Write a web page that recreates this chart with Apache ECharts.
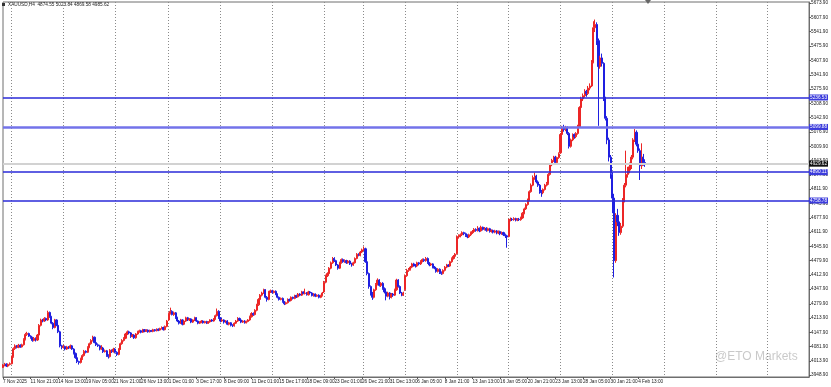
<!DOCTYPE html>
<html><head><meta charset="utf-8">
<script src="https://cdn.jsdelivr.net/npm/echarts@6/dist/echarts.min.js"></script>
<style>html,body{margin:0;padding:0;background:#fff}#c{width:831px;height:387px}</style>
</head><body><div id="c"></div>
<script>
// H4 bars, 7 Nov 2025 05:00 .. 5 Feb 2026 05:00 (index 0..372)
const opens = [
3985,3996,4000,3991,3999,4002,4035,4072,4085,4078,
4088,4080,4090,4115,4138,4142,4130,4124,4110,4120,
4112,4135,4180,4205,4200,4212,4205,4240,4220,4190,
4170,4205,4180,4150,4085,4078,4082,4070,4080,4075,
4085,4070,4050,4030,4012,4008,4025,4040,4060,4055,
4078,4095,4110,4125,4100,4090,4085,4070,4075,4058,
4062,4040,4035,4065,4058,4070,4055,4045,4070,4095,
4110,4120,4140,4150,4145,4128,4135,4122,4140,4150,
4155,4148,4160,4152,4158,4150,4156,4152,4160,4155,
4162,4158,4165,4170,4160,4175,4205,4235,4245,4230,
4238,4215,4200,4190,4205,4185,4200,4215,4205,4210,
4195,4205,4215,4200,4190,4195,4200,4192,4198,4190,
4196,4205,4200,4210,4225,4245,4215,4200,4205,4195,
4200,4185,4192,4180,4178,4190,4200,4212,4205,4195,
4200,4192,4198,4205,4220,4235,4230,4250,4275,4300,
4320,4330,4345,4310,4300,4335,4340,4332,4338,4325,
4310,4300,4305,4290,4280,4285,4300,4295,4310,4305,
4318,4312,4325,4320,4335,4328,4330,4322,4335,4330,
4318,4325,4315,4320,4310,4318,4335,4380,4410,4420,
4445,4470,4490,4480,4460,4445,4470,4485,4475,4480,
4470,4478,4465,4460,4470,4490,4510,4505,4520,4530,
4535,4475,4420,4360,4330,4310,4345,4370,4390,4365,
4375,4350,4335,4315,4330,4310,4325,4320,4345,4390,
4360,4330,4320,4345,4410,4435,4440,4450,4465,4460,
4455,4470,4465,4478,4485,4480,4490,4470,4460,4465,
4450,4445,4430,4440,4425,4420,4435,4450,4460,4455,
4475,4490,4500,4512,4590,4595,4600,4610,4605,4598,
4590,4600,4610,4615,4625,4620,4630,4618,4635,4625,
4630,4620,4628,4615,4620,4612,4618,4608,4615,4605,
4610,4600,4595,4592,4668,4672,4670,4675,4668,4672,
4670,4678,4700,4720,4740,4760,4800,4830,4865,4872,
4845,4830,4800,4795,4810,4830,4838,4880,4925,4945,
4960,4935,4958,4980,5065,5095,5088,5098,5070,5010,
5040,5065,5055,5070,5100,5190,5230,5245,5265,5255,
5280,5290,5400,5560,5575,5500,5380,5420,5395,5230,
5140,5040,4960,4880,4770,4480,4690,4660,4610,4640,
4760,4830,4880,4900,4915,4960,5040,5075,5020,4990,
4920,4960,4935];
const closes = [
3996,4000,3991,3999,4002,4035,4072,4085,4078,4088,
4080,4090,4115,4138,4142,4130,4124,4110,4120,4112,
4135,4180,4205,4200,4212,4205,4240,4220,4190,4170,
4205,4180,4150,4085,4078,4082,4070,4080,4075,4085,
4070,4050,4030,4012,4008,4025,4040,4060,4055,4078,
4095,4110,4125,4100,4090,4085,4070,4075,4058,4062,
4040,4035,4065,4058,4070,4055,4045,4070,4095,4110,
4120,4140,4150,4145,4128,4135,4122,4140,4150,4155,
4148,4160,4152,4158,4150,4156,4152,4160,4155,4162,
4158,4165,4170,4160,4175,4200,4235,4245,4230,4238,
4215,4200,4190,4205,4185,4200,4215,4205,4210,4195,
4205,4215,4200,4190,4195,4200,4192,4198,4190,4196,
4205,4200,4210,4225,4245,4215,4200,4205,4195,4200,
4185,4192,4180,4178,4190,4200,4212,4205,4195,4200,
4192,4198,4205,4220,4235,4230,4250,4275,4300,4320,
4330,4345,4310,4300,4335,4340,4332,4338,4325,4310,
4300,4305,4290,4280,4285,4300,4295,4310,4305,4318,
4312,4325,4320,4335,4328,4330,4322,4335,4330,4318,
4325,4315,4320,4310,4318,4330,4380,4410,4420,4445,
4470,4490,4480,4460,4445,4470,4485,4475,4480,4470,
4478,4465,4460,4470,4490,4510,4505,4520,4530,4535,
4475,4420,4360,4330,4310,4345,4370,4390,4365,4375,
4350,4335,4315,4330,4310,4325,4320,4345,4390,4360,
4330,4320,4330,4410,4435,4440,4450,4465,4460,4455,
4470,4465,4478,4485,4480,4490,4470,4460,4465,4450,
4445,4430,4440,4425,4420,4435,4450,4460,4455,4475,
4490,4500,4510,4590,4595,4600,4610,4605,4598,4590,
4600,4610,4615,4625,4620,4630,4618,4635,4625,4630,
4620,4628,4615,4620,4612,4618,4608,4615,4605,4610,
4600,4595,4590,4668,4672,4670,4675,4668,4672,4670,
4678,4700,4720,4740,4760,4800,4830,4865,4872,4845,
4830,4800,4795,4810,4830,4838,4880,4925,4945,4960,
4935,4958,4975,5065,5095,5088,5098,5070,5010,5040,
5065,5055,5070,5100,5190,5230,5245,5265,5255,5280,
5290,5400,5560,5575,5500,5380,5420,5395,5230,5140,
5040,4960,4885,4770,4480,4690,4660,4610,4640,4760,
4830,4880,4900,4915,4960,5040,5075,5020,4990,4920,
4960,4935,4929];
const lows = [
3982,3990,3987,3986,3994,3999,4030,4066,4073,4074,
4076,4077,4086,4110,4131,4126,4118,4104,4106,4105,
4108,4130,4175,4194,4196,4199,4201,4215,4185,4162,
4166,4176,4144,4078,4069,4072,4064,4066,4070,4071,
4066,4045,4025,4005,3998,4003,4020,4035,4050,4052,
4074,4090,4105,4097,4084,4080,4064,4066,4052,4054,
4034,4026,4031,4052,4054,4050,4038,4041,4066,4090,
4105,4116,4135,4138,4122,4124,4117,4118,4136,4146,
4143,4145,4148,4149,4146,4147,4149,4148,4151,4152,
4153,4155,4161,4156,4157,4171,4200,4230,4226,4224,
4210,4195,4184,4186,4180,4181,4196,4200,4200,4190,
4191,4200,4196,4185,4186,4190,4188,4189,4186,4187,
4192,4196,4197,4206,4221,4210,4194,4196,4188,4190,
4181,4180,4175,4172,4174,4186,4196,4200,4190,4191,
4188,4189,4194,4201,4216,4224,4226,4245,4270,4294,
4314,4326,4305,4290,4296,4330,4327,4328,4320,4305,
4295,4296,4285,4274,4276,4281,4290,4291,4300,4301,
4307,4309,4315,4316,4324,4323,4318,4318,4326,4314,
4313,4311,4312,4305,4306,4314,4330,4375,4404,4415,
4440,4465,4474,4455,4438,4441,4466,4470,4470,4465,
4466,4460,4452,4456,4466,4486,4500,4500,4515,4525,
4470,4412,4350,4318,4298,4305,4340,4365,4360,4358,
4345,4328,4296,4310,4300,4305,4312,4316,4340,4355,
4325,4315,4316,4340,4405,4428,4434,4445,4452,4448,
4450,4458,4460,4472,4474,4475,4465,4454,4455,4444,
4440,4424,4425,4418,4414,4416,4430,4445,4450,4451,
4470,4485,4495,4508,4582,4588,4594,4598,4590,4584,
4585,4594,4604,4610,4614,4615,4612,4614,4620,4620,
4614,4616,4610,4610,4606,4607,4602,4603,4598,4600,
4594,4585,4540,4588,4662,4664,4665,4662,4663,4664,
4665,4674,4695,4715,4735,4755,4795,4825,4855,4838,
4822,4790,4776,4788,4805,4824,4832,4874,4918,4938,
4925,4930,4952,4975,5058,5078,5080,5062,5000,5004,
5034,5045,5048,5064,5095,5182,5220,5236,5240,5248,
5270,5285,5395,5540,5480,5105,5370,5380,5220,5130,
5020,4940,4860,4700,4402,4470,4640,4595,4600,4632,
4750,4820,4865,4885,4905,4950,5030,5010,4980,4854,
4905,4920,4915];
const highs = [
4000,4006,4004,4003,4008,4040,4078,4092,4089,4094,
4092,4095,4120,4145,4150,4146,4134,4127,4126,4124,
4140,4186,4211,4210,4218,4216,4248,4244,4224,4195,
4210,4208,4184,4155,4090,4090,4086,4085,4084,4091,
4089,4074,4054,4034,4016,4030,4046,4066,4064,4083,
4100,4116,4132,4128,4104,4096,4090,4088,4080,4068,
4066,4046,4070,4068,4076,4074,4060,4074,4100,4116,
4125,4145,4156,4155,4149,4140,4139,4144,4155,4160,
4159,4164,4163,4162,4161,4160,4159,4164,4163,4166,
4166,4169,4175,4174,4179,4205,4240,4262,4250,4244,
4242,4220,4205,4210,4208,4204,4220,4219,4214,4213,
4208,4220,4218,4203,4199,4204,4203,4201,4201,4200,
4208,4209,4214,4230,4258,4250,4218,4210,4208,4204,
4204,4196,4195,4185,4194,4205,4218,4216,4208,4204,
4204,4202,4209,4225,4241,4240,4255,4280,4306,4325,
4336,4350,4348,4316,4340,4346,4345,4342,4342,4328,
4314,4309,4309,4293,4290,4305,4304,4314,4313,4322,
4322,4330,4329,4340,4338,4350,4334,4340,4339,4334,
4329,4328,4324,4324,4322,4335,4386,4415,4426,4450,
4476,4497,4496,4484,4464,4475,4490,4490,4486,4484,
4483,4482,4470,4475,4495,4515,4514,4525,4536,4546,
4540,4480,4425,4365,4335,4350,4376,4398,4394,4380,
4380,4356,4340,4336,4334,4330,4330,4350,4396,4394,
4365,4335,4336,4416,4442,4446,4455,4470,4470,4464,
4475,4474,4482,4490,4490,4497,4495,4474,4470,4468,
4455,4450,4445,4444,4430,4440,4455,4465,4464,4480,
4495,4506,4515,4597,4602,4606,4616,4614,4610,4602,
4605,4615,4622,4631,4630,4640,4634,4642,4638,4636,
4635,4633,4632,4625,4624,4623,4622,4620,4619,4615,
4614,4605,4600,4675,4680,4678,4681,4679,4677,4678,
4684,4705,4726,4746,4768,4806,4838,4875,4888,4878,
4852,4835,4808,4815,4836,4845,4886,4932,4952,4966,
4966,4962,4982,5072,5105,5110,5105,5102,5076,5046,
5070,5070,5076,5110,5196,5240,5255,5275,5272,5290,
5302,5410,5590,5598,5585,5510,5430,5440,5400,5240,
5150,5050,4970,4890,4790,4700,4720,4680,4655,4770,
4840,4990,4915,4935,4970,5048,5090,5084,5030,5000,
5024,4975,4950];

// x-axis: one label every 16 bars
const xLabels = ["7 Nov 2025","11 Nov 21:00","14 Nov 13:00","19 Nov 05:00","21 Nov 21:00","26 Nov 13:00",
"1 Dec 01:00","3 Dec 17:00","8 Dec 09:00","11 Dec 01:00","15 Dec 17:00","18 Dec 09:00","23 Dec 01:00",
"26 Dec 21:00","31 Dec 13:00","6 Jan 05:00","8 Jan 21:00","13 Jan 13:00","16 Jan 05:00","20 Jan 21:00",
"23 Jan 13:00","28 Jan 05:00","30 Jan 21:00","4 Feb 13:00"];
const weekStarts = [5,35,65,96,126,156,186,209,233,263,293,323,353,383,413,443];
const yTicks = [3948.90,4013.90,4081.90,4147.90,4213.90,4279.90,4347.90,4412.90,4479.90,4545.90,4611.90,
4677.90,4745.90,4811.90,4877.90,4943.90,5009.90,5076.90,5142.90,5208.90,5275.90,5341.90,5407.90,5475.90,
5541.90,5607.90,5673.90];
const levelLines = [5236.53, 5099.88, 4890.11, 4758.78];
const lastPrice = 4929.62;
const titleText = 'XAUUSD,H4  4874.55 5023.84 4869.58 4985.62';
const totalSlots = 468;

const categories = Array.from({length: totalSlots}, (_, i) => String(i));
const candles = closes.map((c, i) => [opens[i], c, lows[i], highs[i]]);

const chart = echarts.init(document.getElementById('c'), null, {renderer: 'canvas'});
const FONT = 'Liberation Sans';
const FS = 4.7;
const lvlStyle = [
  {color: '#2a2ad8', width: 1.5},
  {color: '#7373ea', width: 2.5},
  {color: '#2a2ad8', width: 1.5},
  {color: '#2a2ad8', width: 1.5}
];
const markData = levelLines.map((v, i) => ({
  yAxis: v,
  lineStyle: {color: lvlStyle[i].color, width: lvlStyle[i].width, type: 'solid'},
  label: {show: true, position: 'end', distance: 0, formatter: v.toFixed(2), color: '#fff',
    backgroundColor: '#3b3bdc', padding: [1, 1, 0, 1], fontSize: FS, fontFamily: FONT}
}));
markData.unshift({
  yAxis: lastPrice,
  lineStyle: {color: '#d2d2d2', width: 2, type: 'solid'},
  label: {show: true, position: 'end', distance: 0, formatter: lastPrice.toFixed(2), color: '#fff',
    backgroundColor: '#111', padding: [1, 1, 0, 1], fontSize: FS, fontFamily: FONT}
});
const showX = (i) => i % 16 === 0 && i / 16 < xLabels.length;

chart.setOption({
  animation: false,
  backgroundColor: '#ffffff',
  grid: {left: 2, right: 19.6, top: 2, bottom: 10, show: true, borderColor: '#6e6e6e', borderWidth: 1},
  xAxis: {
    type: 'category', data: categories, boundaryGap: false,
    axisLine: {show: true, lineStyle: {color: '#6e6e6e', width: 1}},
    axisTick: {show: true, length: 2, interval: showX, lineStyle: {color: '#555'}},
    axisLabel: {show: true, interval: showX, showMinLabel: true, hideOverlap: false,
      formatter: (v, i) => xLabels[i / 16] || '', align: 'left', margin: 2, fontSize: FS,
      fontFamily: FONT, color: '#222'},
    splitLine: {show: true, interval: (i) => weekStarts.indexOf(i) >= 0,
      lineStyle: {color: '#8a8a8a', type: [1, 2], width: 1}}
  },
  yAxis: {
    type: 'value', position: 'right', min: 3940.5, max: 5679.3, scale: true,
    axisLine: {show: true, lineStyle: {color: '#6e6e6e', width: 1}},
    axisTick: {show: true, length: 2, customValues: yTicks, lineStyle: {color: '#555'}},
    axisLabel: {show: true, customValues: yTicks, formatter: (v) => v.toFixed(2), margin: 2,
      fontSize: FS, fontFamily: FONT, color: '#222'},
    splitLine: {show: false}
  },
  series: [{
    type: 'candlestick', data: candles, barWidth: 1.6,
    itemStyle: {color: '#ec2626', color0: '#1f1fe0', borderColor: '#ec2626', borderColor0: '#1f1fe0', borderWidth: 1},
    markLine: {silent: true, symbol: 'none', animation: false, data: markData}
  }],
  graphic: [
    {type: 'rect', shape: {x: 2, y: 3, width: 3, height: 3}, style: {fill: '#333'}},
    {type: 'text', left: 8, top: 2.5, style: {text: titleText, fontSize: FS, fontFamily: FONT, fill: '#222'}},
    {type: 'polygon', shape: {points: [[645, 0], [651, 0], [648, 4]]}, style: {fill: '#666'}},
    {type: 'text', left: 715, top: 351, style: {text: '@ETO Markets', fontSize: 12, fontFamily: FONT,
      fill: 'rgba(120,120,120,0.4)'}}
  ]
});
</script></body></html>
